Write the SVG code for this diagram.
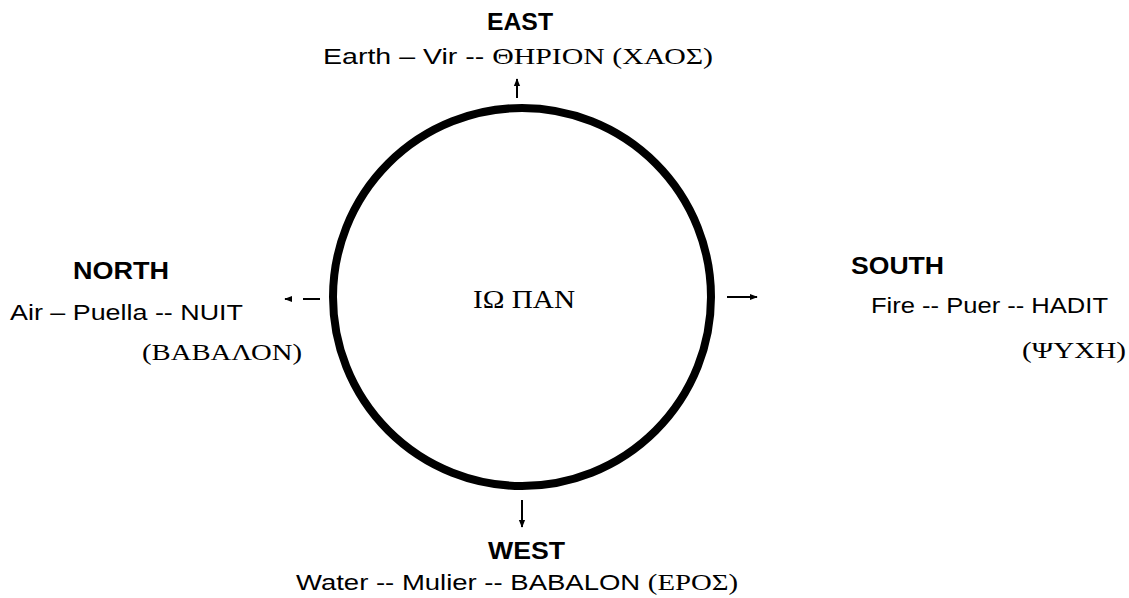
<svg xmlns="http://www.w3.org/2000/svg" width="1129" height="598" viewBox="0 0 1129 598">
<defs>
<style>
.h{font-family:"Liberation Sans",Arial,sans-serif;font-weight:bold;font-size:24px;fill:#000}
.t{font-family:"Liberation Sans",Arial,sans-serif;font-size:22px;fill:#000}
.g{font-family:"Liberation Serif","Times New Roman",serif;font-size:23px;fill:#000}
.c{stroke:#000;stroke-width:2;fill:none}
</style>
<marker id="ah" viewBox="0 0 10 10" refX="9" refY="5" markerWidth="4" markerHeight="4" orient="auto"><path d="M0,1 L10,5 L0,9 z" fill="#000"/></marker>
</defs>
<rect width="1129" height="598" fill="#fff"/>
<g id="center">
<circle cx="522" cy="297" r="189" fill="none" stroke="#000" stroke-width="8"/>
<text class="g" x="473" y="308" style="font-size:25px" textLength="102" lengthAdjust="spacingAndGlyphs">ΙΩ ΠΑΝ</text>
</g>
<g id="connectors">
<line class="c" x1="517" y1="98" x2="517" y2="79" marker-end="url(#ah)"/>
<line class="c" x1="320" y1="299" x2="285" y2="299" stroke-dasharray="17 13" marker-end="url(#ah)"/>
<line class="c" x1="727" y1="297" x2="757" y2="297" marker-end="url(#ah)"/>
<line class="c" x1="522" y1="500" x2="522" y2="527" marker-end="url(#ah)"/>
</g>
<g id="east">
<text class="h" x="487" y="30" textLength="66" lengthAdjust="spacingAndGlyphs">EAST</text>
<text x="323" y="64" textLength="390" lengthAdjust="spacingAndGlyphs"><tspan class="t">Earth – Vir -- </tspan><tspan class="g">ΘΗΡΙΟΝ  (ΧΑΟΣ)</tspan></text>
</g>
<g id="north">
<text class="h" x="73" y="279" textLength="96" lengthAdjust="spacingAndGlyphs">NORTH</text>
<text class="t" x="10" y="320" textLength="233" lengthAdjust="spacingAndGlyphs">Air – Puella -- NUIT</text>
<text class="g" x="142" y="360" textLength="160" lengthAdjust="spacingAndGlyphs">(ΒΑΒΑΛΟΝ)</text>
</g>
<g id="south">
<text class="h" x="851" y="274" textLength="93" lengthAdjust="spacingAndGlyphs">SOUTH</text>
<text class="t" x="871" y="313" textLength="237" lengthAdjust="spacingAndGlyphs">Fire -- Puer -- HADIT</text>
<text class="g" x="1022" y="358" textLength="104" lengthAdjust="spacingAndGlyphs">(ΨΥΧΗ)</text>
</g>
<g id="west">
<text class="h" x="488" y="559" textLength="77" lengthAdjust="spacingAndGlyphs">WEST</text>
<text x="296" y="590" textLength="442" lengthAdjust="spacingAndGlyphs"><tspan class="t">Water -- Mulier -- BABALON </tspan><tspan class="g">(ΕΡΟΣ)</tspan></text>
</g>
</svg>
